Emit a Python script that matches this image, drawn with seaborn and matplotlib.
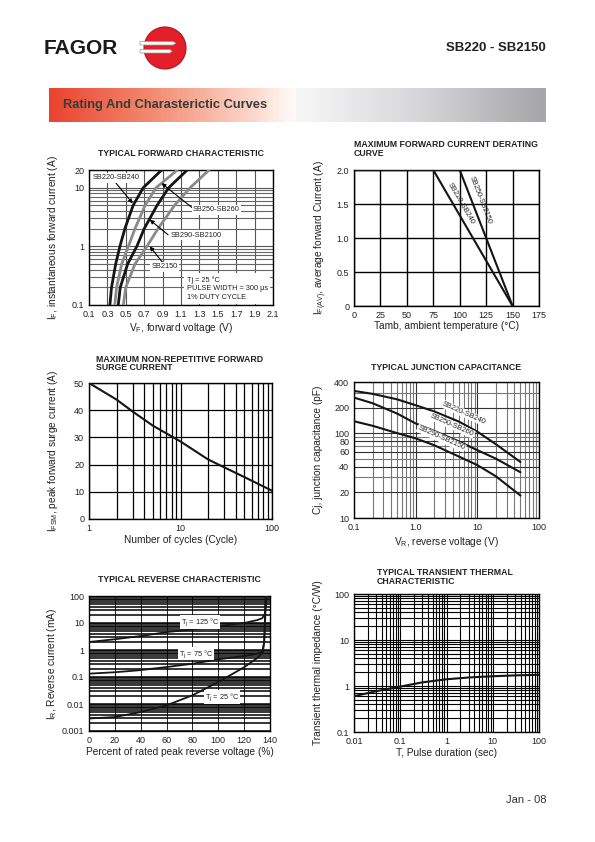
import numpy as np
import pandas as pd
import matplotlib
matplotlib.use("Agg")
import matplotlib.pyplot as plt
import seaborn as sns
from matplotlib.ticker import FixedLocator, FixedFormatter, NullFormatter
from matplotlib.colors import LinearSegmentedColormap
from matplotlib.patches import Circle, Polygon

sns.set_style("white")
plt.rcParams['font.family'] = ['Liberation Sans', 'DejaVu Sans']
plt.rcParams['mathtext.fontset'] = 'custom'
plt.rcParams['mathtext.rm'] = 'Liberation Sans'
plt.rcParams['mathtext.it'] = 'Liberation Sans:italic'
plt.rcParams['mathtext.bf'] = 'Liberation Sans:bold'

# ---------------- data ----------------
# Typical forward characteristic (current A -> forward voltage V)
fwd_current = [0.1, 0.2, 0.5, 1, 2, 5, 10, 20]
fwd_v_sb220 = [0.327, 0.345, 0.39, 0.436, 0.49, 0.58, 0.69, 0.89]
fwd_v_sb250 = [0.38, 0.40, 0.455, 0.528, 0.60, 0.71, 0.83, 1.06]
fwd_v_sb290 = [0.418, 0.44, 0.52, 0.62, 0.70, 0.84, 0.967, 1.168]
fwd_v_sb2150 = [0.473, 0.50, 0.60, 0.73, 0.85, 1.03, 1.20, 1.405]
fwd_names = ['SB220-SB240', 'SB250-SB260', 'SB290-SB2100', 'SB2150']

# Maximum forward current derating curve
derate_t_sb220 = [0, 75, 150]
derate_i_sb220 = [2.0, 2.0, 0.0]
derate_t_sb250 = [0, 100, 150]
derate_i_sb250 = [2.0, 2.0, 0.0]
derate_names = ['SB220-SB240', 'SB250-SB2150']

# Maximum non-repetitive forward surge current
surge_cycles = [1, 2, 3, 5, 10, 20, 30, 50, 100]
surge_current = [50, 43.9, 39.5, 34.3, 28.5, 21.9, 19.0, 15.4, 10.4]

# Typical junction capacitance
cap_voltage = [0.1, 0.2, 0.5, 1, 2, 5, 10, 20, 50]
cap_sb220 = [314, 290, 250, 213, 180, 137, 104, 74, 45.7]
cap_sb250 = [262, 225, 170, 130, 106, 80, 63, 50, 34.6]
cap_sb290 = [138, 122, 100, 86.7, 72, 53, 42, 31, 18.4]
cap_names = ['SB220-SB240', 'SB250-SB260', 'SB290-SB2150']

# Typical reverse characteristic (% of rated voltage -> mA)
rev_pct_125 = [0, 20, 40, 60, 80, 100, 120, 130, 134, 136, 137, 137.5]
rev_ma_125 = [1.98, 2.5, 3.3, 4.6, 5.8, 7.6, 10, 12.8, 15, 22, 50, 100]
rev_pct_75 = [0, 20, 40, 60, 80, 100, 120, 130, 134, 135.5, 136.2, 136.8]
rev_ma_75 = [0.133, 0.15, 0.18, 0.234, 0.31, 0.45, 0.6, 0.73, 0.85, 2, 10, 100]
rev_pct_25 = [0, 20, 40, 60, 80, 100, 120, 130, 134.5, 135.5, 136.0, 136.4]
rev_ma_25 = [0.0029, 0.0033, 0.005, 0.0089, 0.021, 0.065, 0.23, 0.5, 0.8, 2, 10, 100]
rev_names = ['125', '75', '25']

# Typical transient thermal characteristic
pulse_sec = [0.01, 0.03, 0.1, 0.3, 1, 3, 10, 30, 100]
thermal_z = [0.6, 0.77, 0.97, 1.2, 1.4, 1.53, 1.63, 1.7, 1.75]

# ---------------- figure ----------------
W, H = 595, 842
fig = plt.figure(figsize=(W / 100, H / 100), dpi=100)
bg = fig.add_axes([0, 0, 1, 1])
bg.axis('off')

# banner gradient
cmap = LinearSegmentedColormap.from_list('banner', [
    (0.0, '#ea432f'), (0.2, '#f2896e'), (0.42, '#fcdcd1'), (0.49, '#fffaf8'),
    (0.5, '#f7f7f8'), (0.75, '#d6d6d8'), (1.0, '#a6a6a8')])
bg.imshow(np.linspace(0, 1, 600).reshape(1, -1), cmap=cmap, extent=[49, 546, 122, 88],
          aspect='auto', interpolation='bilinear', zorder=0)
bg.set_xlim(0, W)
bg.set_ylim(H, 0)

bg.text(63, 105, 'Rating And Charasterictic Curves', fontsize=9.3, fontweight='bold',
        color='#3a3a3a', va='center', ha='left')
bg.text(44, 48, 'FAGOR', fontsize=15, fontweight='bold', color='#1a1a1a', va='center', ha='left')
bg.text(546, 48, 'SB220 - SB2150', fontsize=9.5, fontweight='bold', color='#222', va='center', ha='right')
bg.text(546, 800, 'Jan - 08', fontsize=8, color='#333', va='center', ha='right')

# logo
bg.add_patch(Circle((165, 48), 21, facecolor='#e31f2a', edgecolor='#b0141d', lw=0.8, zorder=2))
bg.add_patch(Polygon([(140, 41.5), (173, 41.5), (176, 43.2), (173, 45), (140, 45)],
                     closed=True, facecolor='white', edgecolor='#999', lw=0.5, zorder=3))
bg.add_patch(Polygon([(140, 49.5), (170, 49.5), (172, 51.2), (170, 53), (140, 53)],
                     closed=True, facecolor='white', edgecolor='#999', lw=0.5, zorder=3))


def axes_at(l, t, r, b):
    return fig.add_axes([l / W, 1 - b / H, (r - l) / W, (b - t) / H])


def setup(ax, xlim, ylim, xmaj, xlab, ymaj, ylab, xminor=(), yminor=(),
          xscale='linear', yscale='linear'):
    ax.set_xscale(xscale)
    ax.set_yscale(yscale)
    ax.set_xlim(*xlim)
    ax.set_ylim(*ylim)
    ax.xaxis.set_major_locator(FixedLocator(xmaj))
    ax.xaxis.set_major_formatter(FixedFormatter(xlab))
    ax.yaxis.set_major_locator(FixedLocator(ymaj))
    ax.yaxis.set_major_formatter(FixedFormatter(ylab))
    ax.xaxis.set_minor_locator(FixedLocator(list(xminor)))
    ax.yaxis.set_minor_locator(FixedLocator(list(yminor)))
    ax.xaxis.set_minor_formatter(NullFormatter())
    ax.yaxis.set_minor_formatter(NullFormatter())
    ax.tick_params(which='both', length=0, labelsize=6.5, pad=3.5, colors='#222')
    for s in ax.spines.values():
        s.set_visible(True)
        s.set_color('black')
        s.set_linewidth(1.0)
    ax.set_axisbelow(True)


def labels(ax, xl, yl, xly, ylx):
    ax.set_xlabel(xl, fontsize=7.3, color='#222')
    ax.set_ylabel(yl, fontsize=7.3, color='#222')
    ax.xaxis.set_label_coords(0.5, xly)
    ax.yaxis.set_label_coords(ylx, 0.5)


def log_minors(lo, hi):
    out = []
    d = lo
    while d < hi:
        out += [d * k for k in range(2, 10) if d * k < hi]
        d *= 10
    return out


title_kw = dict(fontsize=6.3, fontweight='bold', color='#222')

# ---- 1: forward characteristic ----
ax1 = axes_at(89, 170, 273, 305)
fwd = pd.concat([pd.DataFrame({'V': v, 'I': fwd_current, 'series': n}) for n, v in
                 zip(fwd_names, [fwd_v_sb220, fwd_v_sb250, fwd_v_sb290, fwd_v_sb2150])])
sns.lineplot(data=fwd, x='V', y='I', hue='series', sort=False, estimator=None,
             palette={'SB220-SB240': '#151515', 'SB250-SB260': '#8a8a8a',
                      'SB290-SB2100': '#151515', 'SB2150': '#8a8a8a'},
             linewidth=2.0, legend=False, ax=ax1, zorder=3)
xt = [0.1, 0.3, 0.5, 0.7, 0.9, 1.1, 1.3, 1.5, 1.7, 1.9, 2.1]
setup(ax1, (0.1, 2.1), (0.1, 20), xt, [str(v) for v in xt], [0.1, 1, 10, 20],
      ['0.1', '1', '10', '20'], yminor=log_minors(0.1, 20), yscale='log')
ax1.grid(which='major', color='#555', lw=0.8)
ax1.grid(which='minor', axis='y', color='#666', lw=0.8)
labels(ax1, r'V$_\mathregular{F}$, forward voltage (V)',
       r'I$_\mathregular{F}$, instantaneous forward current (A)', -0.115, -0.16)
bg.text(181, 153, 'TYPICAL FORWARD CHARACTERISTIC', ha='center', va='center', **title_kw)

akw = dict(arrowprops=dict(arrowstyle='-|>', color='black', lw=0.8, mutation_scale=6,
                           shrinkA=0, shrinkB=0), zorder=6)
tkw = dict(fontsize=5.3, color='#222', zorder=7,
           bbox=dict(facecolor='white', edgecolor='none', pad=1.0))
ax1.annotate('', xy=(0.575, 5.4), xytext=(0.38, 12.7), **akw)
ax1.text(0.137, 14.8, 'SB220-SB240', ha='left', va='center', **tkw)
ax1.annotate('', xy=(0.888, 11.9), xytext=(1.25, 4.2), **akw)
ax1.plot([1.25, 1.72], [4.2, 4.2], color='black', lw=0.8, zorder=6)
ax1.text(1.486, 4.2, 'SB250-SB260', ha='center', va='center', **tkw)
ax1.annotate('', xy=(0.76, 2.84), xytext=(0.96, 1.57), **akw)
ax1.text(0.985, 1.55, 'SB290-SB2100', ha='left', va='center', **tkw)
ax1.annotate('', xy=(0.76, 1.0), xytext=(0.905, 0.52), **akw)
ax1.text(0.924, 0.45, 'SB2150', ha='center', va='center', **tkw)
ax1.text(1.16, 0.19, 'Tj = 25 \u00b0C\nPULSE WIDTH = 300 \u00b5s\n1% DUTY CYCLE',
         ha='left', va='center', fontsize=5.3, color='#222', zorder=7, linespacing=1.35,
         bbox=dict(facecolor='white', edgecolor='none', pad=2.0))

# ---- 2: derating ----
ax2 = axes_at(354, 170, 539, 306)
der = pd.concat([pd.DataFrame({'T': t, 'I': i, 'series': n}) for n, t, i in
                 zip(derate_names, [derate_t_sb220, derate_t_sb250],
                     [derate_i_sb220, derate_i_sb250])])
sns.lineplot(data=der, x='T', y='I', hue='series', sort=False, estimator=None,
             palette={'SB220-SB240': '#151515', 'SB250-SB2150': '#151515'},
             linewidth=1.5, legend=False, ax=ax2, zorder=3)
setup(ax2, (0, 175), (0, 2.0), [0, 25, 50, 75, 100, 125, 150, 175],
      ['0', '25', '50', '75', '100', '125', '150', '175'],
      [0, 0.5, 1.0, 1.5, 2.0], ['0', '0.5', '1.0', '1.5', '2.0'])
ax2.grid(which='major', color='black', lw=1.0)
labels(ax2, 'Tamb, ambient temperature (\u00b0C)',
       r'I$_\mathregular{F(AV)}$, average forward Current (A)', -0.11, -0.135)
bg.text(354, 140, 'MAXIMUM FORWARD CURRENT DERATING\nCURVE', ha='left', va='top',
        linespacing=1.0, **title_kw)


def angle_of(ax, p0, p1):
    a = ax.transData.transform(p0)
    b = ax.transData.transform(p1)
    return np.degrees(np.arctan2(b[1] - a[1], b[0] - a[0]))


ang1 = angle_of(ax2, (75, 2.0), (150, 0.0))
ang2 = angle_of(ax2, (100, 2.0), (150, 0.0))
ax2.text(101, 1.51, 'SB220-SB240', rotation=ang1, rotation_mode='anchor', ha='center',
         va='center', fontsize=5.3, color='#222')
ax2.text(119.2, 1.56, 'SB250-SB2150', rotation=ang2, rotation_mode='anchor', ha='center',
         va='center', fontsize=5.3, color='#222')

# ---- 3: surge ----
ax3 = axes_at(89, 383, 272, 519)
sns.lineplot(x=surge_cycles, y=surge_current, color='#151515', linewidth=1.5, ax=ax3, zorder=3)
setup(ax3, (1, 100), (0, 50), [1, 10, 100], ['1', '10', '100'],
      [0, 10, 20, 30, 40, 50], ['0', '10', '20', '30', '40', '50'],
      xminor=log_minors(1, 100), xscale='log')
ax3.grid(which='major', color='black', lw=0.9)
ax3.grid(which='minor', axis='x', color='black', lw=0.9)
labels(ax3, 'Number of cycles (Cycle)', r'I$_\mathregular{FSM}$, peak forward surge current (A)',
       -0.12, -0.16)
bg.text(96, 363.5, 'MAXIMUM NON-REPETITIVE FORWARD\nSURGE CURRENT', ha='left', va='center',
        linespacing=1.0, **title_kw)

# ---- 4: capacitance ----
ax4 = axes_at(354, 382, 539, 518)
cap = pd.concat([pd.DataFrame({'V': cap_voltage, 'C': c, 'series': n}) for n, c in
                 zip(cap_names, [cap_sb220, cap_sb250, cap_sb290])])
sns.lineplot(data=cap, x='V', y='C', hue='series', sort=False, estimator=None,
             palette={n: '#151515' for n in cap_names}, linewidth=1.5, legend=False,
             ax=ax4, zorder=3)
setup(ax4, (0.1, 100), (10, 400), [0.1, 1, 10, 100], ['0.1', '1.0', '10', '100'],
      [10, 20, 40, 60, 80, 100, 200, 400], ['10', '20', '40', '60', '80', '100', '200', '400'],
      xminor=log_minors(0.1, 100), yminor=[30, 50, 70, 90, 300],
      xscale='log', yscale='log')
ax4.grid(which='major', color='#333', lw=0.8)
ax4.grid(which='minor', color='#777', lw=0.8)
labels(ax4, r'V$_\mathregular{R}$, reverse voltage (V)', 'Cj, junction capacitance (pF)',
       -0.125, -0.165)
bg.text(446, 367, 'TYPICAL JUNCTION CAPACITANCE', ha='center', va='center', **title_kw)
for n, xy in zip(cap_names, [(6.1, 172), (3.9, 124), (2.6, 87)]):
    ax4.text(xy[0], xy[1], n, rotation=-24, rotation_mode='anchor', ha='center',
             va='center', fontsize=5.3, color='#222', zorder=7,
             bbox=dict(facecolor='white', edgecolor='none', pad=0.5))

# ---- 5: reverse characteristic ----
ax5 = axes_at(89, 596, 270, 731)
rev = pd.concat([pd.DataFrame({'P': p, 'I': i, 'series': n}) for n, p, i in
                 zip(rev_names, [rev_pct_125, rev_pct_75, rev_pct_25],
                     [rev_ma_125, rev_ma_75, rev_ma_25])])
sns.lineplot(data=rev, x='P', y='I', hue='series', sort=False, estimator=None,
             palette={n: '#151515' for n in rev_names}, linewidth=1.3, legend=False,
             ax=ax5, zorder=3)
setup(ax5, (0, 140), (0.001, 100), [0, 20, 40, 60, 80, 100, 120, 140],
      ['0', '20', '40', '60', '80', '100', '120', '140'],
      [0.001, 0.01, 0.1, 1, 10, 100], ['0.001', '0.01', '0.1', '1', '10', '100'],
      yminor=log_minors(0.001, 100), yscale='log')
ax5.grid(which='major', axis='x', color='black', lw=0.6)
ax5.grid(which='major', axis='y', color='black', lw=1.1)
ax5.grid(which='minor', axis='y', color='black', lw=1.1)
labels(ax5, 'Percent of rated peak reverse voltage (%)', r'I$_\mathregular{R}$, Reverse current (mA)',
       -0.12, -0.163)
bg.text(179, 580, 'TYPICAL REVERSE CHARACTERISTIC', ha='center', va='center', **title_kw)
for n, xy in zip(rev_names, [(86, 10.9), (83, 0.73), (103, 0.018)]):
    ax5.text(xy[0], xy[1], r'T$_\mathregular{j}$ = ' + n + ' \u00b0C', ha='center', va='center',
             fontsize=5.3, color='#222', zorder=7,
             bbox=dict(facecolor='white', edgecolor='none', pad=0.6))

# ---- 6: transient thermal ----
ax6 = axes_at(354, 594, 539, 732)
sns.lineplot(x=pulse_sec, y=thermal_z, color='#151515', linewidth=1.5, ax=ax6, zorder=3)
setup(ax6, (0.01, 100), (0.1, 100), [0.01, 0.1, 1, 10, 100], ['0.01', '0.1', '1', '10', '100'],
      [0.1, 1, 10, 100], ['0.1', '1', '10', '100'],
      xminor=log_minors(0.01, 100), yminor=log_minors(0.1, 100), xscale='log', yscale='log')
ax6.grid(which='both', color='black', lw=0.8)
labels(ax6, 'T, Pulse duration (sec)', 'Transient thermal impedance (\u00b0C/W)', -0.115, -0.168)
bg.text(377, 568, 'TYPICAL TRANSIENT THERMAL\nCHARACTERISTIC', ha='left', va='top',
        linespacing=1.0, **title_kw)

fig.savefig('out.png', dpi=100)
